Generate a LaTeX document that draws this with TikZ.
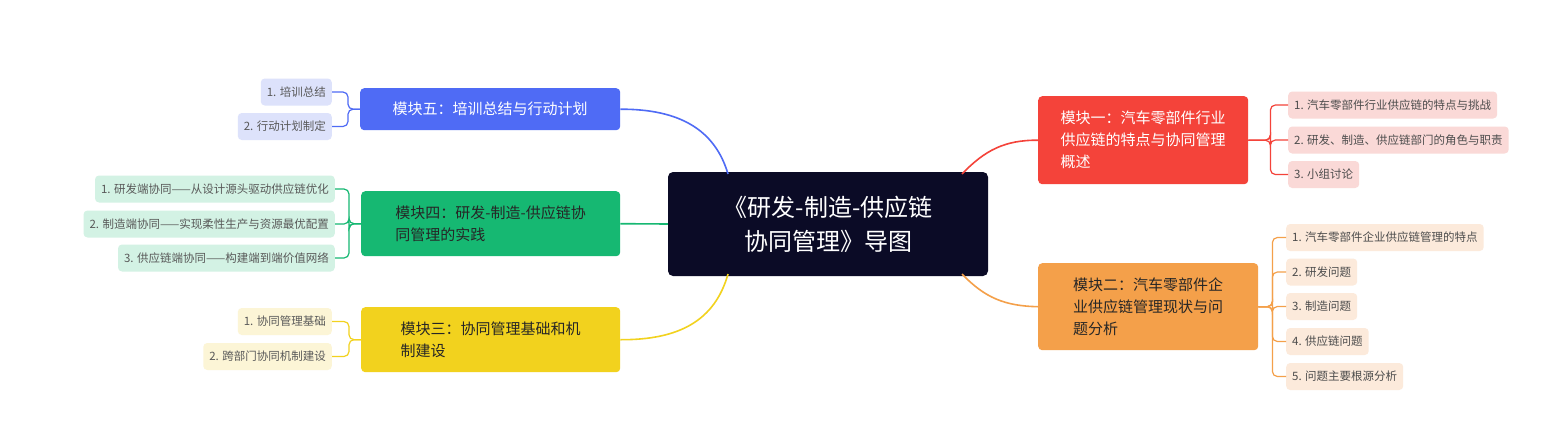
\documentclass[tikz,border=0pt]{standalone}
\usepackage{fontspec}
\setmainfont{Noto Sans CJK SC}
\begin{document}
\begin{tikzpicture}[x=1pt,y=-1pt,
  mod/.style={rounded corners=4pt,inner xsep=10pt,inner ysep=6pt,align=left,font=\fontsize{15}{22}\selectfont,anchor=north west},
  kid/.style={rounded corners=4pt,inner xsep=6pt,minimum height=27pt,font=\fontsize{11.5}{14}\selectfont},
  lnk/.style={line width=1.6pt},
  brk/.style={line width=1.2pt,rounded corners=5pt}]
\definecolor{cblue}{HTML}{4F6BF5}\definecolor{lblue}{HTML}{DDE2FB}
\definecolor{cgreen}{HTML}{16B872}\definecolor{lgreen}{HTML}{D3F2E4}
\definecolor{cyel}{HTML}{F2D21E}\definecolor{lyel}{HTML}{FCF5D6}
\definecolor{cred}{HTML}{F4433A}\definecolor{lred}{HTML}{FAD9D7}
\definecolor{cor}{HTML}{F4A04A}\definecolor{lor}{HTML}{FCEADB}
\definecolor{cdark}{HTML}{0B0B26}
\useasboundingbox[fill=white] (0,0) rectangle (1558,434);
% center
\node[fill=cdark,rounded corners=5pt,minimum width=320pt,minimum height=104pt,text=white,align=center,font=\fontsize{24}{34}\selectfont] (c) at (828,224) {《研发-制造-供应链\\协同管理》导图};
% modules
\node[mod,fill=cred,text=white,minimum width=210pt,minimum height=88pt] (m1) at (1038,96) {模块一：汽车零部件行业\\供应链的特点与协同管理\\概述};
\node[mod,fill=cor,text=black!85,minimum width=220pt,minimum height=87pt] (m2) at (1038,263) {模块二：汽车零部件企\\业供应链管理现状与问\\题分析};
\node[mod,fill=cblue,text=white,minimum width=260pt,minimum height=42pt] (m5) at (360,88) {模块五：培训总结与行动计划};
\node[mod,fill=cgreen,text=black!85,minimum width=259pt,minimum height=65pt] (m4) at (361,191) {模块四：研发-制造-供应链协\\同管理的实践};
\node[mod,fill=cyel,text=black!85,minimum width=259pt,minimum height=65pt] (m3) at (361,307) {模块三：协同管理基础和机\\制建设};
% module links
\draw[lnk,cblue] (728,174) .. controls (715,130) and (680,109) .. (m5.east);
\draw[lnk,cgreen] (c.west) -- (m4.east);
\draw[lnk,cyel] (728,274) .. controls (715,320) and (680,340) .. (m3.east);
\draw[lnk,cred] (962,174) .. controls (985,150) and (1005,140) .. (m1.west);
\draw[lnk,cor] (962,274) .. controls (985,298) and (1005,306) .. (m2.west);
% children right
\begin{scope}[every node/.style={kid,anchor=west}]
\node[fill=lred,text=black!70] (r1) at (1288,105) {1. 汽车零部件行业供应链的特点与挑战};
\node[fill=lred,text=black!70] (r2) at (1288,140) {2. 研发、制造、供应链部门的角色与职责};
\node[fill=lred,text=black!70] (r3) at (1288,174.5) {3. 小组讨论};
\node[fill=lor,text=black!70] (o1) at (1286,237.5) {1. 汽车零部件企业供应链管理的特点};
\node[fill=lor,text=black!70] (o2) at (1286,272) {2. 研发问题};
\node[fill=lor,text=black!70] (o3) at (1286,306.5) {3. 制造问题};
\node[fill=lor,text=black!70] (o4) at (1286,341.5) {4. 供应链问题};
\node[fill=lor,text=black!70] (o5) at (1286,376.5) {5. 问题主要根源分析};
\end{scope}
\begin{scope}[every node/.style={kid,anchor=east}]
\node[fill=lblue,text=black!65] (b1) at (332,92) {1. 培训总结};
\node[fill=lblue,text=black!65] (b2) at (332,126.5) {2. 行动计划制定};
\node[fill=lgreen,text=black!65] (g1) at (335,189) {1. 研发端协同——从设计源头驱动供应链优化};
\node[fill=lgreen,text=black!65] (g2) at (335,224) {2. 制造端协同——实现柔性生产与资源最优配置};
\node[fill=lgreen,text=black!65] (g3) at (335,258) {3. 供应链端协同——构建端到端价值网络};
\node[fill=lyel,text=black!65] (y1) at (332,321.5) {1. 协同管理基础};
\node[fill=lyel,text=black!65] (y2) at (332,356.5) {2. 跨部门协同机制建设};
\end{scope}
% brackets
\foreach \k in {r1,r2,r3} \draw[brk,cred] (m1.east) -- ++(22,0) |- (\k.west);
\foreach \k in {o1,o2,o3,o4,o5} \draw[brk,cor] (m2.east) -- ++(14,0) |- (\k.west);
\foreach \k in {b1,b2} \draw[brk,cblue] (m5.west) -- ++(-12,0) |- (\k.east);
\foreach \k in {g1,g2,g3} \draw[brk,cgreen] (m4.west) -- ++(-12,0) |- (\k.east);
\foreach \k in {y1,y2} \draw[brk,cyel] (m3.west) -- ++(-12,0) |- (\k.east);
\end{tikzpicture}
\end{document}
